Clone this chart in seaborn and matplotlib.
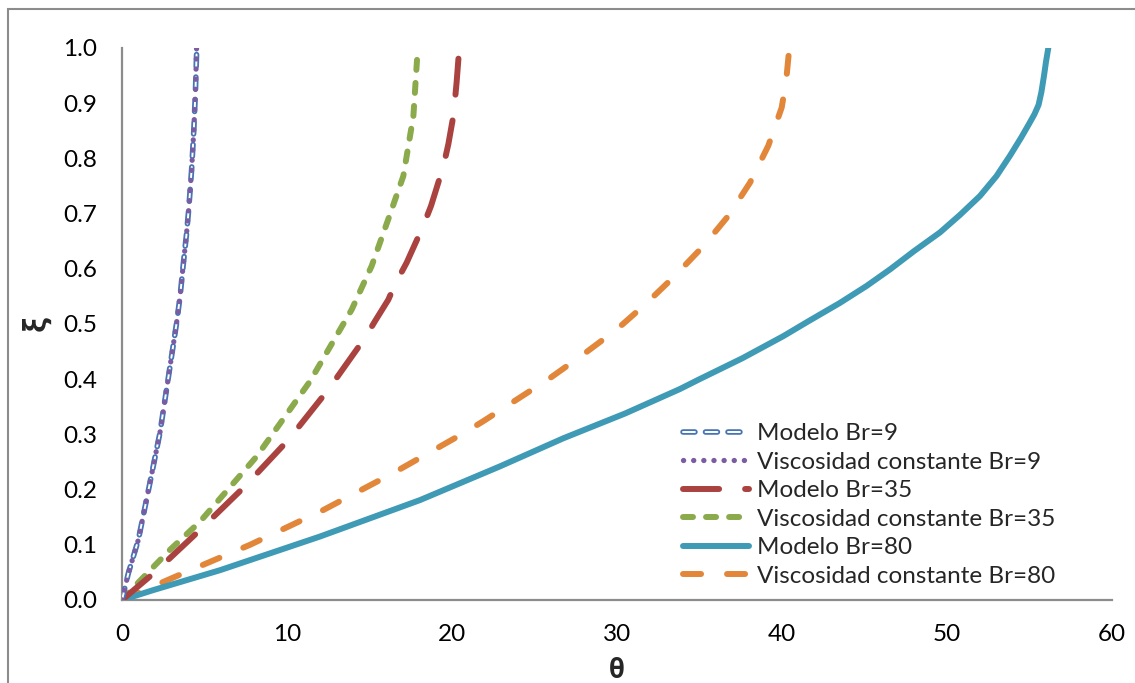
import matplotlib
matplotlib.use("Agg")
import matplotlib.pyplot as plt
import matplotlib.patheffects as pe
from matplotlib.patches import Rectangle
import seaborn as sns
import pandas as pd

# ---- data ----
theta_m9 = [0, 0.38, 0.99, 1.65, 2.3, 2.91, 3.3, 3.52, 3.72, 3.9, 4.05, 4.22, 4.35, 4.45, 4.53]
xi_m9 = [0, 0.048, 0.109, 0.206, 0.303, 0.423, 0.5, 0.55, 0.61, 0.66, 0.71, 0.78, 0.85, 0.92, 1.0]

theta_c9 = [0, 0.38, 0.99, 1.65, 2.3, 2.91, 3.3, 3.52, 3.72, 3.9, 4.05, 4.22, 4.35, 4.45, 4.52]
xi_c9 = [0, 0.048, 0.109, 0.206, 0.303, 0.423, 0.5, 0.55, 0.61, 0.66, 0.71, 0.78, 0.85, 0.92, 1.0]

theta_m35 = [0, 1.9, 2.91, 4.73, 7.45, 10.08, 12.5, 14.73, 15.33, 16.14, 16.55, 17.25, 18.26, 18.73, 19.48, 19.78, 20.1, 20.28, 20.44]
xi_m35 = [0, 0.048, 0.076, 0.127, 0.206, 0.29, 0.381, 0.475, 0.505, 0.544, 0.572, 0.611, 0.678, 0.714, 0.786, 0.826, 0.88, 0.938, 1.0]

theta_c35 = [0, 1.0, 2.91, 4.73, 8.16, 11.39, 13.92, 15.13, 16.14, 17.05, 17.66, 17.9]
xi_c35 = [0, 0.032, 0.091, 0.142, 0.26, 0.396, 0.526, 0.605, 0.69, 0.768, 0.877, 0.988]

theta_m80 = [0, 1.9, 5.94, 12.0, 18.06, 22.9, 26.75, 30.5, 33.8, 35.0, 37.6, 40.08, 41.6, 43.5, 45.13,
             46.55, 48.0, 49.58, 50.8, 52.0, 53.0, 53.82, 54.5, 55.0, 55.3, 55.55, 55.72, 55.88, 56.0, 56.14]
xi_m80 = [0, 0.018, 0.054, 0.115, 0.181, 0.242, 0.293, 0.338, 0.382, 0.40, 0.438, 0.478, 0.505, 0.538, 0.569,
          0.599, 0.632, 0.666, 0.698, 0.732, 0.768, 0.805, 0.838, 0.864, 0.88, 0.897, 0.92, 0.95, 0.975, 1.0]

theta_c80 = [0, 3.21, 7.76, 12.2, 16.44, 20.69, 21.9, 23.92, 25.94, 27.96, 29.98, 31.8, 33.5, 35.23, 36.75, 38.06, 39.17, 39.98, 40.25, 40.44]
xi_c80 = [0, 0.042, 0.1, 0.163, 0.23, 0.302, 0.324, 0.363, 0.402, 0.445, 0.49, 0.538, 0.587, 0.641, 0.696, 0.756, 0.823, 0.892, 0.94, 0.999]

labels = ["Modelo Br=9", "Viscosidad constante Br=9", "Modelo Br=35",
          "Viscosidad constante Br=35", "Modelo Br=80", "Viscosidad constante Br=80"]
x_ticks = [0, 10, 20, 30, 40, 50, 60]
y_ticks = [0.0, 0.1, 0.2, 0.3, 0.4, 0.5, 0.6, 0.7, 0.8, 0.9, 1.0]

# ---- style ----
sns.set_theme(style="white")
plt.rcParams["font.family"] = ["Lato", "DejaVu Sans"]
plt.rcParams["lines.scale_dashes"] = False
FS = 17.5

fig = plt.figure(figsize=(11.35, 6.83), dpi=100)
W, H = 1135, 683
ax = fig.add_axes([122 / W, 1 - 600 / H, (1112 - 122) / W, (600 - 48) / H])

series = [
    (theta_m9, xi_m9, labels[0], "white", (0, (8.6, 7.6)), 1.4),
    (theta_c9, xi_c9, labels[1], "#7B5CA3", (0, (0.1, 7.2)), 3.8),
    (theta_m35, xi_m35, labels[2], "#AA433F", (0, (26, 18.7)), 4.3),
    (theta_c35, xi_c35, labels[3], "#8BAA4B", (0, (7.2, 9.4)), 4.3),
    (theta_m80, xi_m80, labels[4], "#3F9AB5", None, 4.3),
    (theta_c80, xi_c80, labels[5], "#E2863A", (0, (13, 18.7)), 4.3),
]

for i, (xs, ys, lab, col, dash, lw) in enumerate(series):
    df = pd.DataFrame({"theta": xs, "xi": ys})
    n_before = len(ax.lines)
    sns.lineplot(data=df, x="theta", y="xi", ax=ax, sort=False, estimator=None,
                 color=col, linewidth=lw, label=lab)
    ln = ax.lines[n_before]
    ln.set_solid_capstyle("round")
    ln.set_dash_capstyle("round")
    ln.set_solid_joinstyle("round")
    ln.set_dash_joinstyle("round")
    if dash is not None:
        ln.set_linestyle(dash)
    if i == 0:
        ln.set_path_effects([pe.Stroke(linewidth=4.0, foreground="#4674B4"), pe.Normal()])
    ln.set_zorder(3 + (5 - i) * 0.1 if i > 1 else 4 + i * 0.1)

ax.set_xlim(0, 60)
ax.set_ylim(0, 1.0)
ax.set_xticks(x_ticks)
ax.set_yticks(y_ticks)
ax.set_xticklabels([str(v) for v in x_ticks])
ax.set_yticklabels([f"{v:.1f}" for v in y_ticks])
ax.tick_params(axis="both", length=0, labelsize=FS, colors="black")
ax.tick_params(axis="y", pad=18)
ax.tick_params(axis="x", pad=17)
for s in ["top", "right"]:
    ax.spines[s].set_visible(False)
for s in ["left", "bottom"]:
    ax.spines[s].set_color("#8C8C8C")
    ax.spines[s].set_linewidth(1.6)
ax.grid(False)

ax.set_xlabel("θ", fontsize=FS + 1, fontweight="bold", family=["Open Sans", "DejaVu Sans"], labelpad=9)
ax.set_ylabel("ξ", fontsize=FS + 4, fontweight="bold", family=["Open Sans", "DejaVu Sans"], labelpad=8)

leg = ax.legend(loc="upper left", bbox_to_anchor=(683 / W, 1 - 423 / H),
                bbox_transform=fig.transFigure, frameon=False, fontsize=FS,
                handlelength=2.7, handletextpad=0.35, labelspacing=0.31,
                borderpad=0, borderaxespad=0)

fig.patches.append(Rectangle((8 / W, -0.2), 1.3, 1.2 - 9 / H, transform=fig.transFigure,
                             fill=False, edgecolor="#8C8C8C", linewidth=1.5))

fig.savefig("out.png", dpi=100, facecolor="white")
